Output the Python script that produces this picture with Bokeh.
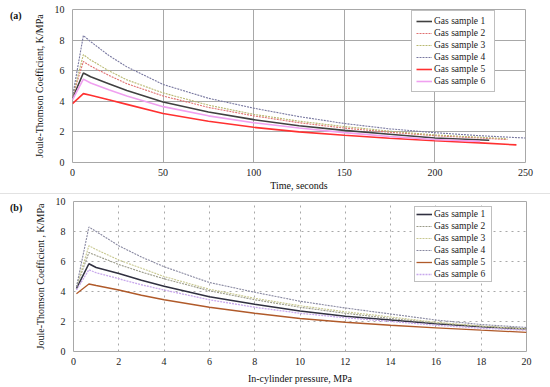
from bokeh.plotting import figure
from bokeh.models import FixedTicker, Div
from bokeh.layouts import column, row
from bokeh.embed import file_html
from bokeh.resources import INLINE

# ---------------- Panel (a): time ----------------
names = ["Gas sample 1", "Gas sample 2", "Gas sample 3", "Gas sample 4", "Gas sample 5", "Gas sample 6"]

t_s1 = [0, 6, 10, 20, 30, 50, 75, 100, 125, 150, 175, 200, 230]
s1_a = [4.2, 5.85, 5.6, 5.15, 4.7, 3.95, 3.3, 2.8, 2.4, 2.1, 1.85, 1.6, 1.45]
t_s2 = [0, 6, 10, 20, 30, 50, 75, 100, 125, 150, 175, 200, 225, 240]
s2_a = [4.3, 6.6, 6.3, 5.7, 5.15, 4.35, 3.6, 3.05, 2.6, 2.25, 1.98, 1.75, 1.6, 1.5]
t_s3 = [0, 6, 10, 20, 30, 50, 75, 100, 125, 150, 175, 200, 225, 240]
s3_a = [4.3, 7.05, 6.7, 6.0, 5.4, 4.55, 3.75, 3.15, 2.7, 2.35, 2.05, 1.8, 1.65, 1.55]
t_s4 = [0, 6, 10, 20, 30, 50, 75, 100, 125, 150, 175, 200, 225, 250]
s4_a = [4.3, 8.3, 7.9, 7.0, 6.25, 5.1, 4.2, 3.55, 3.0, 2.55, 2.2, 1.95, 1.75, 1.6]
t_s5 = [0, 6, 10, 20, 30, 50, 75, 100, 125, 150, 175, 200, 225, 245]
s5_a = [3.85, 4.5, 4.4, 4.1, 3.8, 3.2, 2.7, 2.3, 2.0, 1.78, 1.58, 1.42, 1.28, 1.15]
t_s6 = [0, 6, 10, 20, 30, 50, 75, 100, 125, 150, 175, 200, 225]
s6_a = [4.1, 5.45, 5.2, 4.75, 4.35, 3.65, 3.05, 2.6, 2.25, 1.95, 1.7, 1.5, 1.38]

time_ticks = [0, 50, 100, 150, 200, 250]
jt_ticks = [0, 2, 4, 6, 8, 10]

# ---------------- Panel (b): pressure ----------------
p_b = [0.13, 0.68, 1.0, 2, 3, 4, 6, 8, 10, 12, 14, 16, 18, 20]
s1_b = [4.2, 5.85, 5.6, 5.2, 4.75, 4.35, 3.65, 3.15, 2.7, 2.35, 2.1, 1.85, 1.65, 1.5]
s2_b = [4.3, 6.6, 6.4, 5.8, 5.3, 4.85, 4.05, 3.45, 2.95, 2.55, 2.2, 1.9, 1.68, 1.5]
s3_b = [4.3, 7.05, 6.8, 6.1, 5.55, 5.0, 4.15, 3.55, 3.05, 2.65, 2.3, 1.95, 1.7, 1.5]
s4_b = [4.3, 8.3, 8.0, 7.05, 6.3, 5.65, 4.6, 3.95, 3.35, 2.9, 2.5, 2.1, 1.8, 1.6]
s5_b = [3.85, 4.5, 4.4, 4.1, 3.75, 3.45, 2.95, 2.55, 2.2, 1.95, 1.75, 1.58, 1.42, 1.28]
s6_b = [4.1, 5.45, 5.25, 4.85, 4.45, 4.1, 3.45, 2.95, 2.55, 2.25, 2.0, 1.75, 1.55, 1.42]

pressure_ticks = [0, 2, 4, 6, 8, 10, 12, 14, 16, 18, 20]

FONT = "Liberation Serif"
SIDE = 30  # width of the panel-letter column


def style(p, xticks, yticks, xlabel, ylabel, grid_dash):
    p.xaxis.ticker = FixedTicker(ticks=xticks)
    p.yaxis.ticker = FixedTicker(ticks=yticks)
    for ax in (p.xaxis[0], p.yaxis[0]):
        ax.axis_line_color = None
        ax.major_tick_line_color = None
        ax.minor_tick_line_color = None
        ax.major_tick_out = 0
        ax.major_tick_in = 0
        ax.major_label_text_font = FONT
        ax.major_label_text_font_size = "10px"
        ax.major_label_text_color = "#222222"
        ax.axis_label_text_font = FONT
        ax.axis_label_text_font_size = "10px"
        ax.axis_label_text_font_style = "normal"
        ax.axis_label_text_color = "#111111"
    p.xaxis.axis_label = xlabel
    p.yaxis.axis_label = ylabel
    p.xaxis.major_label_standoff = 6
    p.yaxis.major_label_standoff = 8
    p.yaxis.axis_label_standoff = 7
    p.xgrid.grid_line_color = "#a8a8a8"
    p.ygrid.grid_line_color = "#a8a8a8"
    p.xgrid.grid_line_dash = grid_dash
    p.ygrid.grid_line_dash = grid_dash
    p.outline_line_color = "#a8a8a8"
    p.background_fill_color = "white"
    p.border_fill_color = "white"


def letter(text, h, top):
    return Div(text=text, width=SIDE, height=h, margin=0,
               styles={"font-family": FONT, "font-size": "10px", "font-weight": "bold",
                       "color": "#111111", "padding-left": "10px", "padding-top": f"{top}px",
                       "box-sizing": "border-box", "background-color": "white"})


# Panel a
pa = figure(width=550 - SIDE, height=193, x_range=(0, 250), y_range=(0, 10),
            output_backend="svg", toolbar_location=None,
            min_border_left=71 - SIDE, min_border_right=25, min_border_top=9, min_border_bottom=31)
style(pa, time_ticks, jt_ticks, "Time, seconds", "Joule-Thomson Coefficient, K/MPa", "solid")
pa.xaxis.axis_label_standoff = 1

pa.line(t_s1, s1_a, line_color="#404040", line_width=1.6, legend_label=names[0])
pa.line(t_s2, s2_a, line_color="#e07070", line_width=1.1, line_dash="2 1", legend_label=names[1])
pa.line(t_s3, s3_a, line_color="#b8b870", line_width=1.1, line_dash="2 1", legend_label=names[2])
pa.line(t_s4, s4_a, line_color="#7878a0", line_width=1.1, line_dash="2 1", legend_label=names[3])
pa.line(t_s5, s5_a, line_color="#ff3030", line_width=1.6, legend_label=names[4])
pa.line(t_s6, s6_a, line_color="#f0a0f0", line_width=1.6, legend_label=names[5])

# Panel b
pb = figure(width=550 - SIDE, height=193, x_range=(0, 20), y_range=(0, 10),
            output_backend="svg", toolbar_location=None,
            min_border_left=73 - SIDE, min_border_right=24, min_border_top=7, min_border_bottom=36)
style(pb, pressure_ticks, jt_ticks, "In-cylinder pressure, MPa", "Joule-Thomson Coefficient , K/MPa", "dotted")
pb.xaxis.axis_label_standoff = 5

pb.line(p_b, s1_b, line_color="#303040", line_width=1.6, legend_label=names[0])
pb.line(p_b, s2_b, line_color="#9a9a88", line_width=1.1, line_dash="2 1", legend_label=names[1])
pb.line(p_b, s3_b, line_color="#c8c890", line_width=1.1, line_dash="2 1", legend_label=names[2])
pb.line(p_b, s4_b, line_color="#8888a0", line_width=1.1, line_dash="2 1", legend_label=names[3])
pb.line(p_b, s5_b, line_color="#b05a2a", line_width=1.3, legend_label=names[4])
pb.line(p_b, s6_b, line_color="#c8a8ec", line_width=1.3, line_dash="2 1", legend_label=names[5])

for p, loc, pad in ((pa, (339, 70), 4), (pb, (341, 69), 1)):
    lg = p.legend[0]
    lg.location = loc
    lg.label_text_font = FONT
    lg.label_text_font_size = "9.5px"
    lg.label_text_color = "#222222"
    lg.glyph_width = 16
    lg.glyph_height = 12
    lg.label_height = 12
    lg.label_width = 56
    lg.label_standoff = 2
    lg.spacing = 0
    lg.padding = pad
    lg.margin = 0
    lg.border_line_color = "#808080"
    lg.border_line_width = 1
    lg.background_fill_alpha = 1.0

sep = Div(text="", width=550, height=1, margin=0, styles={"background-color": "#e2e2e2"})

layout = column(row(letter("(a)", 193, 9), pa, spacing=0),
                sep,
                row(letter("(b)", 193, 7), pb, spacing=0),
                spacing=0)

open("out.html", "w").write(file_html(layout, INLINE))
